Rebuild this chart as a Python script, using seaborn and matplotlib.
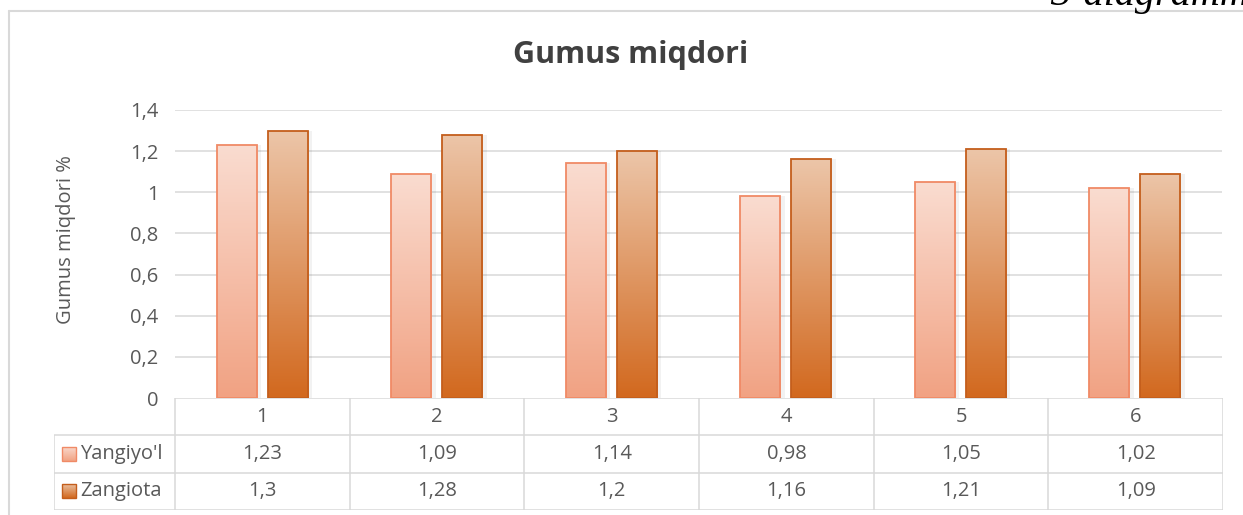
import numpy as np
import pandas as pd
import seaborn as sns
import matplotlib
matplotlib.use("Agg")
import matplotlib.pyplot as plt
from matplotlib.colors import LinearSegmentedColormap
from matplotlib.lines import Line2D
from matplotlib.patches import Rectangle

# data
categories = ["1", "2", "3", "4", "5", "6"]
series = ["Yangiyo'l", "Zangiota"]
yangiyol = [1.23, 1.09, 1.14, 0.98, 1.05, 1.02]
zangiota = [1.3, 1.28, 1.2, 1.16, 1.21, 1.09]
yticks = [0, 0.2, 0.4, 0.6, 0.8, 1.0, 1.2, 1.4]

title = "Gumus miqdori"
ylabel = "Gumus miqdori %"
corner_text = "3-diagramma"

# colors (top, bottom, edge)
grad = {
    "Yangiyo'l": ("#fadcd0", "#f1a283", "#f08a66"),
    "Zangiota": ("#ecc5a8", "#d2691f", "#c45e1c"),
}
txt = "#595959"
grid_c = "#d9d9d9"
fs = 14.5

df = pd.DataFrame({
    "cat": categories * 2,
    "val": yangiyol + zangiota,
    "ser": [series[0]] * 6 + [series[1]] * 6,
})

sns.set_style("white")
plt.rcParams["font.family"] = ["Open Sans", "DejaVu Sans"]

W, H = 1243, 515
fig = plt.figure(figsize=(W / 100, H / 100), dpi=100)

def px_axes(x0, y0, x1, y1):
    return fig.add_axes([x0 / W, 1 - y1 / H, (x1 - x0) / W, (y1 - y0) / H])

ax = px_axes(175, 110, 1222, 398)
sns.barplot(data=df, x="cat", y="val", hue="ser", order=categories,
            hue_order=series, width=0.585, gap=0.215, ax=ax,
            palette=[grad[s][1] for s in series], legend=False, zorder=3)
ax.set_xlim(-0.5, 5.5)
ax.set_ylim(0, 1.4)
ax.set_yticks(yticks)
ax.set_yticklabels([f"{v:g}".replace(".", ",") for v in yticks],
                   color=txt, fontsize=fs)
ax.tick_params(axis="y", length=0, pad=12)
ax.set_xticks([])
ax.set_xlabel("")
ax.set_ylabel(ylabel, color=txt, fontsize=fs)
ax.yaxis.set_label_coords(-0.095, 0.55)
for s in ax.spines.values():
    s.set_visible(False)
for v in yticks[1:]:
    ax.axhline(v, color=grid_c, lw=1.1, zorder=1)

# gradient fill of the bars
n = len(categories)
for i, p in enumerate(ax.patches[:2 * n]):
    s = series[i // n]
    top, bot, edge = grad[s]
    cmap = LinearSegmentedColormap.from_list(s, [bot, top])
    x0, y0 = p.get_x(), p.get_y()
    w, h = p.get_width(), p.get_height()
    p.set_facecolor("none")
    p.set_edgecolor(edge)
    p.set_linewidth(1.3)
    p.set_zorder(4)
    # soft shadow on the right side
    ax.add_patch(Rectangle((x0 + w, y0), 0.025, h, facecolor="#000000",
                           alpha=0.05, lw=0, zorder=2))
    im = ax.imshow(np.linspace(0, 1, 100).reshape(-1, 1), cmap=cmap,
                   extent=[x0, x0 + w, y0, y0 + h], origin="lower",
                   aspect="auto", zorder=3)
    im.set_clip_path(p)
ax.set_xlim(-0.5, 5.5)
ax.set_ylim(0, 1.4)

# data table
tx = px_axes(54, 398, 1223, 510)
left = -0.5 - 121 / 174.5
tx.set_xlim(left, 5.5)
tx.set_ylim(3, 0)
tx.axis("off")
lk = dict(color=grid_c, lw=1.1, solid_capstyle="butt")
tx.add_line(Line2D([-0.5, 5.5], [0, 0], **lk))
for r in [1, 2, 3]:
    tx.add_line(Line2D([left, 5.5], [r, r], **lk))
tx.add_line(Line2D([left, left], [1, 3], **lk))
for c in np.arange(-0.5, 6, 1):
    tx.add_line(Line2D([c, c], [0, 3], **lk))
for i, c in enumerate(categories):
    tx.text(i, 0.5, c, ha="center", va="center", color=txt, fontsize=fs)
    tx.text(i, 1.5, str(yangiyol[i]).replace(".", ","), ha="center",
            va="center", color=txt, fontsize=fs)
    tx.text(i, 2.5, str(zangiota[i]).replace(".", ","), ha="center",
            va="center", color=txt, fontsize=fs)
sq_w = 14 / 174.5
for r, s in enumerate(series):
    top, bot, edge = grad[s]
    x0 = left + 8 / 174.5
    sq = Rectangle((x0, r + 1.5 + 0.19), sq_w, -0.38, facecolor="none",
                   edgecolor=edge, lw=1, zorder=3)
    tx.add_patch(sq)
    cmap = LinearSegmentedColormap.from_list(s + "_l", [bot, top])
    im = tx.imshow(np.linspace(0, 1, 50).reshape(-1, 1), cmap=cmap,
                   extent=[x0, x0 + sq_w, r + 1.69, r + 1.31],
                   origin="lower", aspect="auto", zorder=2)
    im.set_clip_path(sq)
    tx.text(x0 + sq_w + 4 / 174.5, r + 1.5, s, ha="left", va="center",
            color=txt, fontsize=fs)
tx.set_xlim(left, 5.5)
tx.set_ylim(3, 0)

# title, chart border, corner text
fig.text(631 / W, 1 - 55 / H, title, ha="center", va="center",
         fontsize=22, fontweight="bold", color="#404040")
fig.add_artist(Line2D([9 / W, 1], [1 - 11 / H, 1 - 11 / H],
                      color=grid_c, lw=1.5, transform=fig.transFigure))
fig.add_artist(Line2D([9 / W, 9 / W], [0, 1 - 11 / H],
                      color=grid_c, lw=1.5, transform=fig.transFigure))
fig.text(1050 / W, 1 - 5 / H, corner_text, ha="left", va="baseline",
         fontsize=29, fontstyle="italic", family="Liberation Serif",
         color="black")

fig.savefig("out.png", dpi=100)
